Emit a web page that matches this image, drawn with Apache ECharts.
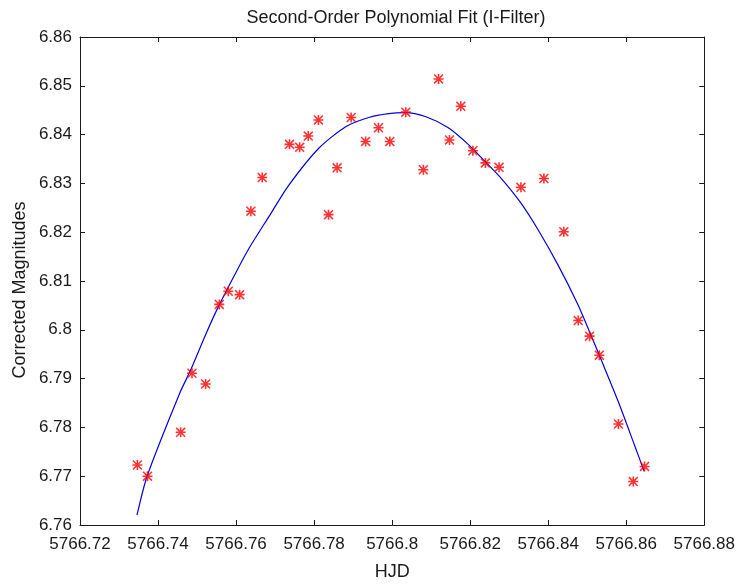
<!DOCTYPE html>
<html><head><meta charset="utf-8">
<script src="https://cdn.jsdelivr.net/npm/echarts@6/dist/echarts.min.js"></script>
<style>html,body{margin:0;padding:0;background:#fff}#c{width:738px;height:586px}</style>
</head><body><div id="c"></div>
<script>
// Observed points (HJD, corrected magnitude)
const hjd = [5766.7347, 5766.7373, 5766.7458, 5766.7487, 5766.7522, 5766.7557, 5766.7580, 5766.7609,
  5766.7638, 5766.7667, 5766.7737, 5766.7763, 5766.7785, 5766.7811, 5766.7837, 5766.7859, 5766.7895,
  5766.7932, 5766.7965, 5766.7994, 5766.8035, 5766.8080, 5766.8119, 5766.8147, 5766.8176, 5766.8207,
  5766.8239, 5766.8274, 5766.8330, 5766.8389, 5766.8440, 5766.8477, 5766.8506, 5766.8531, 5766.8580,
  5766.8618, 5766.8647];
const mag = [6.7723, 6.7700, 6.7790, 6.7911, 6.7889, 6.8052, 6.8079, 6.8072,
  6.8243, 6.8312, 6.8380, 6.8374, 6.8397, 6.8430, 6.8236, 6.8332, 6.8435,
  6.8386, 6.8414, 6.8386, 6.8446, 6.8328, 6.8514, 6.8389, 6.8458, 6.8367,
  6.8342, 6.8333, 6.8292, 6.8310, 6.8201, 6.8019, 6.7987, 6.7948, 6.7807,
  6.7689, 6.7720];
// Fitted curve
const fitHjd = [5766.7346, 5766.7372, 5766.7455, 5766.7485, 5766.7523, 5766.7555, 5766.7600, 5766.7634,
  5766.7685, 5766.7734, 5766.7812, 5766.7881, 5766.7940, 5766.7991, 5766.8034, 5766.8085, 5766.8144,
  5766.8195, 5766.8238, 5766.8280, 5766.8328, 5766.8374, 5766.8425, 5766.8476, 5766.8506, 5766.8535,
  5766.8578, 5766.8621, 5766.8646];
const fitMag = [6.7620, 6.7700, 6.7869, 6.7920, 6.7992, 6.8048, 6.8118, 6.8168,
  6.8233, 6.8295, 6.8372, 6.8416, 6.8435, 6.8443, 6.8445, 6.8437, 6.8414,
  6.8380, 6.8345, 6.8310, 6.8262, 6.8205, 6.8133, 6.8052, 6.7996, 6.7940,
  6.7856, 6.7764, 6.7710];
// Tick values
const xTicks = [5766.72, 5766.74, 5766.76, 5766.78, 5766.80, 5766.82, 5766.84, 5766.86, 5766.88];
const yTicks = [6.76, 6.77, 6.78, 6.79, 6.80, 6.81, 6.82, 6.83, 6.84, 6.85, 6.86];

const FONT = 'Liberation Sans, Arial, sans-serif';
const fmt = v => String(parseFloat((+v).toFixed(2)));
const ASTERISK = 'path://M0,4.2 L10,4.2 L10,5.8 L0,5.8 Z M4.2,0 L5.8,0 L5.8,10 L4.2,10 Z M1.1,0 L10,8.9 L8.9,10 L0,1.1 Z M8.9,0 L10,1.1 L1.1,10 L0,8.9 Z';

const xMin = xTicks[0], xMax = xTicks[xTicks.length - 1], xStep = +(xTicks[1] - xTicks[0]).toFixed(4);
const yMin = yTicks[0], yMax = yTicks[yTicks.length - 1], yStep = +(yTicks[1] - yTicks[0]).toFixed(4);

const axisLine = { show: true, lineStyle: { color: '#1a1a1a', width: 1 } };
const tick = { show: true, inside: true, length: 5, lineStyle: { color: '#1a1a1a', width: 1 } };

const chart = echarts.init(document.getElementById('c'), null, { renderer: 'canvas' });
chart.setOption({
  animation: false,
  backgroundColor: '#ffffff',
  title: {
    text: 'Second-Order Polynomial Fit (I-Filter)',
    left: 391, top: 4, textAlign: 'center',
    textStyle: { fontFamily: FONT, fontSize: 18, fontWeight: 'normal', color: '#1a1a1a' }
  },
  grid: { left: 80, top: 37, right: 31, bottom: 57, containLabel: false },
  xAxis: [{
    type: 'value', min: xMin, max: xMax, interval: xStep, position: 'bottom',
    name: 'HJD', nameLocation: 'middle', nameGap: 38,
    nameTextStyle: { fontFamily: FONT, fontSize: 18, color: '#1a1a1a' },
    axisLine, axisTick: tick, splitLine: { show: false },
    axisLabel: { formatter: fmt, margin: 11, fontFamily: FONT, fontSize: 17, color: '#1a1a1a' }
  }, {
    type: 'value', min: xMin, max: xMax, interval: xStep, position: 'top',
    axisLine, axisTick: tick, splitLine: { show: false }, axisLabel: { show: false }
  }],
  yAxis: [{
    type: 'value', min: yMin, max: yMax, interval: yStep, position: 'left',
    axisLine, axisTick: tick, splitLine: { show: false },
    axisLabel: { formatter: fmt, margin: 8, fontFamily: FONT, fontSize: 17, color: '#1a1a1a' }
  }, {
    type: 'value', min: yMin, max: yMax, interval: yStep, position: 'right',
    axisLine, axisTick: tick, splitLine: { show: false }, axisLabel: { show: false }
  }],
  graphic: [{
    type: 'text', x: 20, y: 290, rotation: Math.PI / 2,
    style: { text: 'Corrected Magnitudes', fontFamily: FONT, fontSize: 18, fill: '#1a1a1a',
      align: 'center', verticalAlign: 'middle' }
  }],
  series: [{
    type: 'line', name: 'fit', xAxisIndex: 0, yAxisIndex: 0,
    data: fitHjd.map((x, i) => [x, fitMag[i]]),
    showSymbol: false, smooth: 0.25,
    lineStyle: { color: '#0000e0', width: 1.2 }, z: 2
  }, {
    type: 'scatter', name: 'data', xAxisIndex: 0, yAxisIndex: 0,
    data: hjd.map((x, i) => [x, mag[i]]),
    symbol: ASTERISK, symbolSize: 10,
    itemStyle: { color: '#ff0000' }, z: 3
  }]
});
</script></body></html>
